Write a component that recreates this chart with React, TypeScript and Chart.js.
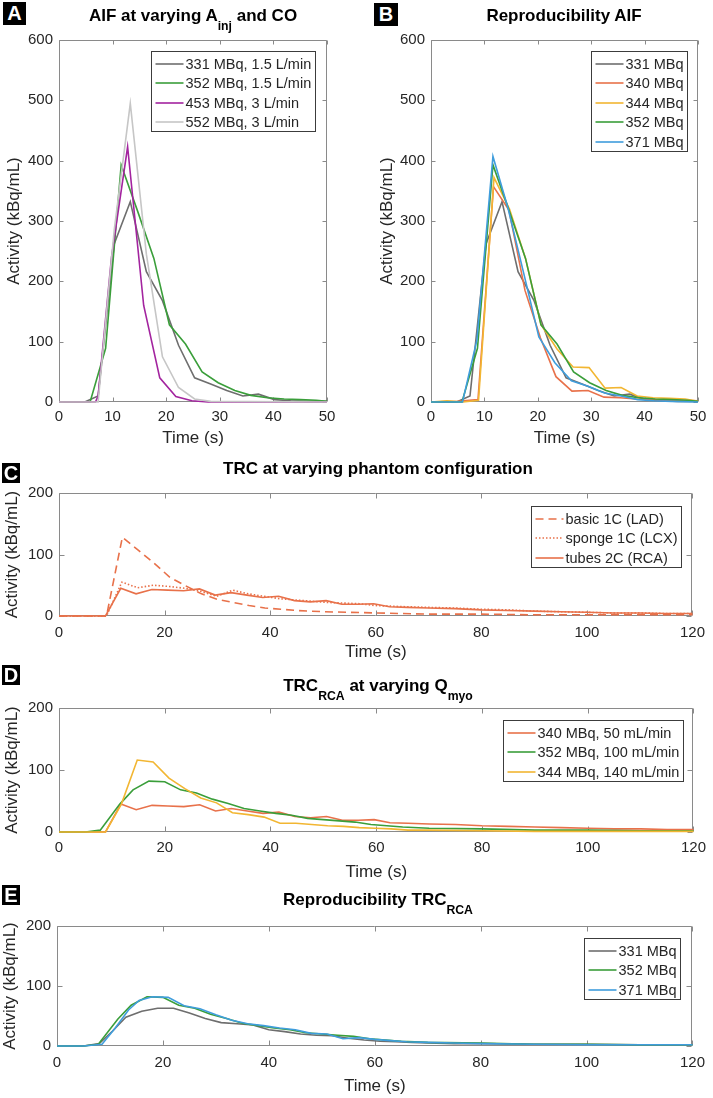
import React, { useEffect, useRef } from 'react';
import { Chart, registerables } from 'chart.js';
Chart.register(...registerables);

const FONT = '"Liberation Sans", Arial, Helvetica, sans-serif';
const TXT = '#262626';
const AXIS = '#8a8a8a';

// ---------- Panel A / B : AIF (time s, activity kBq/mL) ----------
const aif331T = [0, 4.8, 7.3, 10.3, 13.3, 16.3, 19.3, 22.3, 25.3, 28.3, 31.3, 34.3, 37.2, 40.2, 43.2, 46.2, 50];
const aif331V = [0, 0, 10, 262, 332, 216, 168, 94, 40, 30, 19, 10, 13, 4, 2, 1, 1];
const aif352T = [0, 5.8, 8.7, 11.6, 14.6, 17.7, 20.6, 23.6, 26.7, 29.7, 32.8, 35.8, 38.9, 42, 45, 48, 50];
const aif352V = [0, 0, 89, 393, 318, 238, 128, 96, 50, 32, 19, 11, 7, 5, 4, 3, 1];
const aif453T = [0, 6.8, 7.3, 9.8, 12.8, 15.8, 18.8, 21.8, 24.8, 27.8, 50];
const aif453V = [0, 0, 10, 240, 423, 160, 40, 9, 2, 0, 0];
const aif552T = [0, 7.3, 10.3, 13.3, 16.3, 19.3, 22.3, 25.3, 28.3, 50];
const aif552V = [0, 0, 285, 495, 245, 75, 24, 5, 1, 0];
const aif340T = [0, 5, 8.8, 11.7, 14.6, 17.6, 20.5, 23.4, 26.4, 29.4, 32.4, 35.4, 38.4, 41.4, 44.4, 47.4, 50];
const aif340V = [0, 1, 4, 357, 318, 185, 106, 42, 18, 19, 8, 7, 5, 4, 3, 3, 2];
const aif344T = [0, 3, 6, 8.9, 11.8, 14.7, 17.7, 20.6, 23.6, 26.6, 29.6, 32.6, 35.6, 38.6, 41.6, 44.6, 47.6, 50];
const aif344V = [0, 2, 0, 3, 372, 320, 238, 128, 88, 58, 57, 23, 24, 10, 7, 6, 5, 1];
const aif371T = [0, 5.9, 8.6, 11.6, 14.4, 17.4, 20.2, 23.2, 26.3, 29.4, 32.5, 35.6, 38.7, 41.8, 45, 50];
const aif371V = [0, 0, 103, 407, 322, 212, 108, 65, 35, 26, 15, 10, 4, 2, 1, 0];

// ---------- Panel C : TRC per phantom configuration ----------
const basicT = [0, 9, 12, 15, 18, 21, 24, 27, 30, 33, 36, 39, 42, 45, 50, 55, 60, 65, 70, 80, 90, 100, 110, 120];
const basicV = [0, 0, 128, 107, 86, 63, 49, 36, 27, 22, 17, 13, 11, 9, 7, 6, 5, 4, 3, 3, 2, 2, 2, 2];
const spongeT = [0, 9, 11.9, 14.9, 17.9, 20.9, 23.9, 26.9, 29.9, 32.9, 35.9, 38.9, 41.9, 44.9, 47.9, 50.9, 53.9, 56.9, 59.9, 62.9, 66, 70, 75, 80, 85, 90, 95, 100, 105, 110, 115, 120];
const spongeV = [0, 0, 55, 46, 50, 48, 45, 40, 32, 42, 36, 32, 28, 26, 24, 22, 21, 20, 17, 16, 15, 14, 13, 11, 10, 8, 7, 6, 5, 5, 4, 4];
const tubesT = [0, 8.8, 11.7, 14.6, 17.6, 20.6, 23.6, 26.6, 29.6, 32.6, 35.6, 38.6, 41.6, 44.6, 47.6, 50.6, 53.6, 56.6, 59.6, 62.6, 66, 70, 75, 80, 85, 90, 95, 100, 105, 110, 115, 120];
const tubesV = [0, 0, 45, 36, 43, 42, 41, 44, 34, 38, 34, 30, 32, 25, 23, 25, 19, 19, 20, 15, 14, 13, 12, 10, 9, 8, 7, 6, 5, 5, 4, 4];

// ---------- Panel D / E : TRC RCA ----------
const trc352T = [0, 5, 7.8, 11.5, 14, 17, 20, 23, 26, 29, 32, 35, 38, 41, 44, 47, 50, 53, 56, 59, 62, 65, 70, 80, 90, 100, 110, 120];
const trc352V = [0, 0, 3, 45, 68, 82, 81, 68, 63, 53, 46, 38, 34, 30, 27, 22, 20, 18, 16, 12, 10, 8, 6, 5, 3, 3, 2, 2];
const trc344T = [0, 8.8, 11.8, 14.8, 17.8, 20.8, 23.8, 26.8, 29.8, 32.8, 35.8, 38.8, 41.8, 44.8, 47.8, 50.8, 53.8, 56.8, 59.8, 62.8, 66, 70, 80, 90, 100, 110, 120];
const trc344V = [0, 0, 45, 116, 113, 87, 70, 55, 47, 31, 28, 24, 14, 14, 12, 10, 9, 7, 6, 5, 3, 3, 2, 1, 1, 1, 1];
const trc331T = [0, 5, 8, 10.5, 13, 16, 19, 22, 25, 28, 31, 34, 37, 40, 43, 46, 49, 52, 55, 58, 61, 64, 67, 70, 75, 80, 90, 100, 110, 120];
const trc331V = [0, 0, 4, 25, 48, 58, 63, 63, 55, 46, 39, 37, 35, 27, 24, 20, 18, 17, 13, 10, 8, 7, 6, 5, 4, 4, 3, 3, 2, 2];
const trc371T = [0, 5, 8.5, 11, 13.5, 15.5, 18, 21, 24, 27, 30, 33, 36, 39, 42, 45, 48, 51, 54, 57, 60, 63, 66, 70, 75, 80, 90, 100, 110, 120];
const trc371V = [0, 0, 3, 30, 60, 76, 82, 81, 67, 62, 52, 43, 37, 34, 30, 27, 21, 20, 12, 14, 11, 9, 7, 6, 5, 4, 3, 2, 2, 2];

const C_GRAY = '#6e6e6e';
const C_GREEN = '#3a9e3a';
const C_PURPLE = '#a3249f';
const C_LGRAY = '#c6c6c6';
const C_ORANGE = '#e8714a';
const C_YELLOW = '#f2b632';
const C_BLUE = '#3f9ddc';

type Series = { label: string; t: number[]; v: number[]; color: string; dash?: number[] };

const pts = (t: number[], v: number[]) => t.map((x, i) => ({ x, y: v[i] }));

const frame = {
  id: 'frame',
  beforeDatasetsDraw(chart: any, _a: any, o: any) {
    const { ctx, chartArea: a, scales } = chart;
    const L = o.tick ?? 4;
    const l = Math.round(a.left) + 0.5, r = Math.round(a.right) - 0.5;
    const t = Math.round(a.top) + 0.5, b = Math.round(a.bottom) - 0.5;
    ctx.save();
    ctx.strokeStyle = AXIS;
    ctx.lineWidth = 1;
    ctx.beginPath();
    ctx.rect(l, t, r - l, b - t);
    for (const tk of scales.x.ticks) {
      const px = Math.round(scales.x.getPixelForValue(tk.value)) + 0.5;
      ctx.moveTo(px, b); ctx.lineTo(px, b - L);
      ctx.moveTo(px, t); ctx.lineTo(px, t + L);
    }
    for (const tk of scales.y.ticks) {
      const py = Math.round(scales.y.getPixelForValue(tk.value)) + 0.5;
      ctx.moveTo(l, py); ctx.lineTo(l + L, py);
      ctx.moveTo(r, py); ctx.lineTo(r - L, py);
    }
    ctx.stroke();
    ctx.restore();
  },
};

const boxLegend = {
  id: 'boxLegend',
  afterDatasetsDraw(chart: any, _a: any, o: any) {
    if (!o || !o.show) return;
    const { ctx, chartArea: a } = chart;
    const ds = chart.data.datasets;
    ctx.save();
    ctx.font = `${o.size}px ${FONT}`;
    let tw = 0;
    ds.forEach((d: any) => { tw = Math.max(tw, ctx.measureText(d.label).width); });
    const w = Math.round(o.padL + o.line + o.gap + tw + o.padR);
    const h = Math.round(o.first + (ds.length - 1) * o.row + o.last);
    const right = Math.round(a.right - o.insetR) + 0.5;
    const left = right - w;
    const top = Math.round(a.top + o.insetT) + 0.5;
    ctx.fillStyle = '#ffffff';
    ctx.fillRect(left, top, w, h);
    ctx.strokeStyle = '#3c3c3c';
    ctx.lineWidth = 1;
    ctx.strokeRect(left, top, w, h);
    ds.forEach((d: any, i: number) => {
      const y = Math.round(top + o.first + i * o.row);
      ctx.strokeStyle = d.borderColor;
      ctx.lineWidth = d.borderWidth;
      ctx.setLineDash(d.borderDash || []);
      ctx.beginPath();
      ctx.moveTo(left + o.padL, y);
      ctx.lineTo(left + o.padL + o.line, y);
      ctx.stroke();
      ctx.setLineDash([]);
      ctx.fillStyle = TXT;
      ctx.textBaseline = 'middle';
      ctx.textAlign = 'left';
      ctx.fillText(d.label, left + o.padL + o.line + o.gap, y + 0.5);
    });
    ctx.restore();
  },
};

type Geo = {
  canvasLeft: number; canvasRight: number;
  plotLeft: number; plotRight: number; plotTop: number; plotBottom: number;
  yTitleX: number; tickGap: number; titleGap: number; tickLen: number;
};

type PanelProps = {
  g: Geo; series: Series[]; xMax: number; xStep: number; yMax: number; yStep: number;
  legend: any;
};

function Panel({ g, series, xMax, xStep, yMax, yStep, legend }: PanelProps) {
  const ref = useRef<HTMLCanvasElement>(null);
  const padTop = 12;
  const top = g.plotTop - padTop;
  const titleLH = 17 * 1.2;
  const H = Math.ceil(g.titleGap + titleLH / 2 + 1);
  const height = g.plotBottom + H - top;
  const width = g.canvasRight - g.canvasLeft;

  useEffect(() => {
    const n = series.length;
    const chart = new Chart(ref.current as HTMLCanvasElement, {
      type: 'line',
      data: {
        datasets: series.map((s, i) => ({
          label: s.label,
          data: pts(s.t, s.v),
          borderColor: s.color,
          backgroundColor: s.color,
          borderWidth: 1.6,
          borderDash: s.dash ?? [],
          pointRadius: 0,
          tension: 0,
          fill: false,
          clip: 4,
          order: n - i,
        })),
      },
      options: {
        animation: false,
        responsive: false,
        devicePixelRatio: 1,
        events: [],
        layout: { padding: { left: 0, top: padTop, right: g.canvasRight - g.plotRight, bottom: 0 } },
        plugins: {
          legend: { display: false },
          tooltip: { enabled: false },
          title: { display: false },
          frame: { tick: g.tickLen },
          boxLegend: legend,
        } as any,
        scales: {
          x: {
            type: 'linear',
            min: 0,
            max: xMax,
            ticks: {
              stepSize: xStep,
              color: TXT,
              font: { size: 15, family: FONT },
              padding: g.tickGap - 9,
              maxRotation: 0,
              autoSkip: false,
              includeBounds: true,
            },
            grid: { display: false, drawTicks: false },
            border: { display: false },
            title: {
              display: true,
              text: 'Time (s)',
              color: TXT,
              font: { size: 17, family: FONT },
              padding: { top: 0, bottom: H - g.titleGap - titleLH / 2 },
            },
            afterFit: (s: any) => { s.height = H; },
          },
          y: {
            type: 'linear',
            min: 0,
            max: yMax,
            ticks: {
              stepSize: yStep,
              color: TXT,
              font: { size: 15, family: FONT },
              padding: 6,
              autoSkip: false,
            },
            grid: { display: false, drawTicks: false },
            border: { display: false },
            title: {
              display: true,
              text: 'Activity (kBq/mL)',
              color: TXT,
              font: { size: 17, family: FONT },
              padding: { top: g.yTitleX - g.canvasLeft - titleLH / 2, bottom: 0 },
            },
            afterFit: (s: any) => { s.width = g.plotLeft - g.canvasLeft; },
          },
        },
      } as any,
      plugins: [frame, boxLegend],
    });
    return () => chart.destroy();
  }, []);

  return (
    <canvas
      ref={ref}
      width={width}
      height={height}
      style={{ position: 'absolute', left: g.canvasLeft, top, width, height }}
    />
  );
}

const legendBase = { show: true, size: 14.5, padL: 4, line: 28, gap: 2, padR: 4, first: 12.5, row: 19.4, last: 9.5 };

const geoA: Geo = { canvasLeft: 0, canvasRight: 356, plotLeft: 59, plotRight: 327, plotTop: 37, plotBottom: 402, yTitleX: 14.5, tickGap: 15, titleGap: 36, tickLen: 4 };
const geoB: Geo = { canvasLeft: 356, canvasRight: 713, plotLeft: 431, plotRight: 698, plotTop: 37, plotBottom: 402, yTitleX: 387.5, tickGap: 15, titleGap: 36, tickLen: 4 };
const geoC: Geo = { canvasLeft: 0, canvasRight: 713, plotLeft: 59, plotRight: 698, plotTop: 490, plotBottom: 616, yTitleX: 12.5, tickGap: 17, titleGap: 36, tickLen: 5 };
const geoD: Geo = { canvasLeft: 0, canvasRight: 713, plotLeft: 59, plotRight: 698, plotTop: 705, plotBottom: 832, yTitleX: 12.5, tickGap: 16, titleGap: 40, tickLen: 5 };
const geoE: Geo = { canvasLeft: 0, canvasRight: 713, plotLeft: 57, plotRight: 698, plotTop: 923, plotBottom: 1046, yTitleX: 10.5, tickGap: 17, titleGap: 40, tickLen: 5 };

const seriesA: Series[] = [
  { label: '331 MBq, 1.5 L/min', t: aif331T, v: aif331V, color: C_GRAY },
  { label: '352 MBq, 1.5 L/min', t: aif352T, v: aif352V, color: C_GREEN },
  { label: '453 MBq, 3 L/min', t: aif453T, v: aif453V, color: C_PURPLE },
  { label: '552 MBq, 3 L/min', t: aif552T, v: aif552V, color: C_LGRAY },
];
const seriesB: Series[] = [
  { label: '331 MBq', t: aif331T, v: aif331V, color: C_GRAY },
  { label: '340 MBq', t: aif340T, v: aif340V, color: C_ORANGE },
  { label: '344 MBq', t: aif344T, v: aif344V, color: C_YELLOW },
  { label: '352 MBq', t: aif352T, v: aif352V, color: C_GREEN },
  { label: '371 MBq', t: aif371T, v: aif371V, color: C_BLUE },
];
const seriesC: Series[] = [
  { label: 'basic 1C (LAD)', t: basicT, v: basicV, color: C_ORANGE, dash: [8, 5] },
  { label: 'sponge 1C (LCX)', t: spongeT, v: spongeV, color: C_ORANGE, dash: [1.5, 2] },
  { label: 'tubes 2C (RCA)', t: tubesT, v: tubesV, color: C_ORANGE },
];
const seriesD: Series[] = [
  { label: '340 MBq, 50 mL/min', t: tubesT, v: tubesV, color: C_ORANGE },
  { label: '352 MBq, 100 mL/min', t: trc352T, v: trc352V, color: C_GREEN },
  { label: '344 MBq, 140 mL/min', t: trc344T, v: trc344V, color: C_YELLOW },
];
const seriesE: Series[] = [
  { label: '331 MBq', t: trc331T, v: trc331V, color: C_GRAY },
  { label: '352 MBq', t: trc352T, v: trc352V, color: C_GREEN },
  { label: '371 MBq', t: trc371T, v: trc371V, color: C_BLUE },
];

const subStyle: React.CSSProperties = { fontSize: '0.72em', position: 'relative', top: '0.4em', lineHeight: 0 };

function Title({ x, y, children }: { x: number; y: number; children: React.ReactNode }) {
  return (
    <div
      style={{
        position: 'absolute', left: x, top: y - 10, height: 20, lineHeight: '20px',
        transform: 'translateX(-50%)', whiteSpace: 'nowrap', fontFamily: FONT,
        fontWeight: 'bold', fontSize: 17, color: '#000',
      }}
    >
      {children}
    </div>
  );
}

function Letter({ x, y, w, h, ch }: { x: number; y: number; w: number; h: number; ch: string }) {
  return (
    <div
      style={{
        position: 'absolute', left: x, top: y, width: w, height: h, background: '#000', color: '#fff',
        fontFamily: FONT, fontWeight: 'bold', fontSize: 20, lineHeight: `${h}px`, textAlign: 'center',
      }}
    >
      {ch}
    </div>
  );
}

export default function App() {
  return (
    <div style={{ position: 'absolute', left: 0, top: 0, width: 713, height: 1098, background: '#fff', overflow: 'hidden' }}>
      <Panel g={geoA} series={seriesA} xMax={50} xStep={10} yMax={600} yStep={100} legend={{ ...legendBase, insetR: 12, insetT: 11 }} />
      <Panel g={geoB} series={seriesB} xMax={50} xStep={10} yMax={600} yStep={100} legend={{ ...legendBase, insetR: 11, insetT: 11 }} />
      <Panel g={geoC} series={seriesC} xMax={120} xStep={20} yMax={200} yStep={100} legend={{ ...legendBase, insetR: 11, insetT: 13 }} />
      <Panel g={geoD} series={seriesD} xMax={120} xStep={20} yMax={200} yStep={100} legend={{ ...legendBase, insetR: 10, insetT: 12 }} />
      <Panel g={geoE} series={seriesE} xMax={120} xStep={20} yMax={200} yStep={100} legend={{ ...legendBase, insetR: 12, insetT: 12 }} />

      <Letter x={3} y={2} w={23} h={23} ch="A" />
      <Letter x={374} y={3} w={24} h={23} ch="B" />
      <Letter x={2} y={463} w={18} h={20} ch="C" />
      <Letter x={2} y={665} w={18} h={20} ch="D" />
      <Letter x={2} y={885} w={18} h={20} ch="E" />

      <Title x={193} y={16}>AIF at varying A<sub style={subStyle}>inj</sub> and CO</Title>
      <Title x={564} y={16}>Reproducibility AIF</Title>
      <Title x={378} y={469}>TRC at varying phantom configuration</Title>
      <Title x={378} y={686}>TRC<sub style={subStyle}>RCA</sub> at varying Q<sub style={subStyle}>myo</sub></Title>
      <Title x={378} y={900}>Reproducibility TRC<sub style={subStyle}>RCA</sub></Title>
    </div>
  );
}
